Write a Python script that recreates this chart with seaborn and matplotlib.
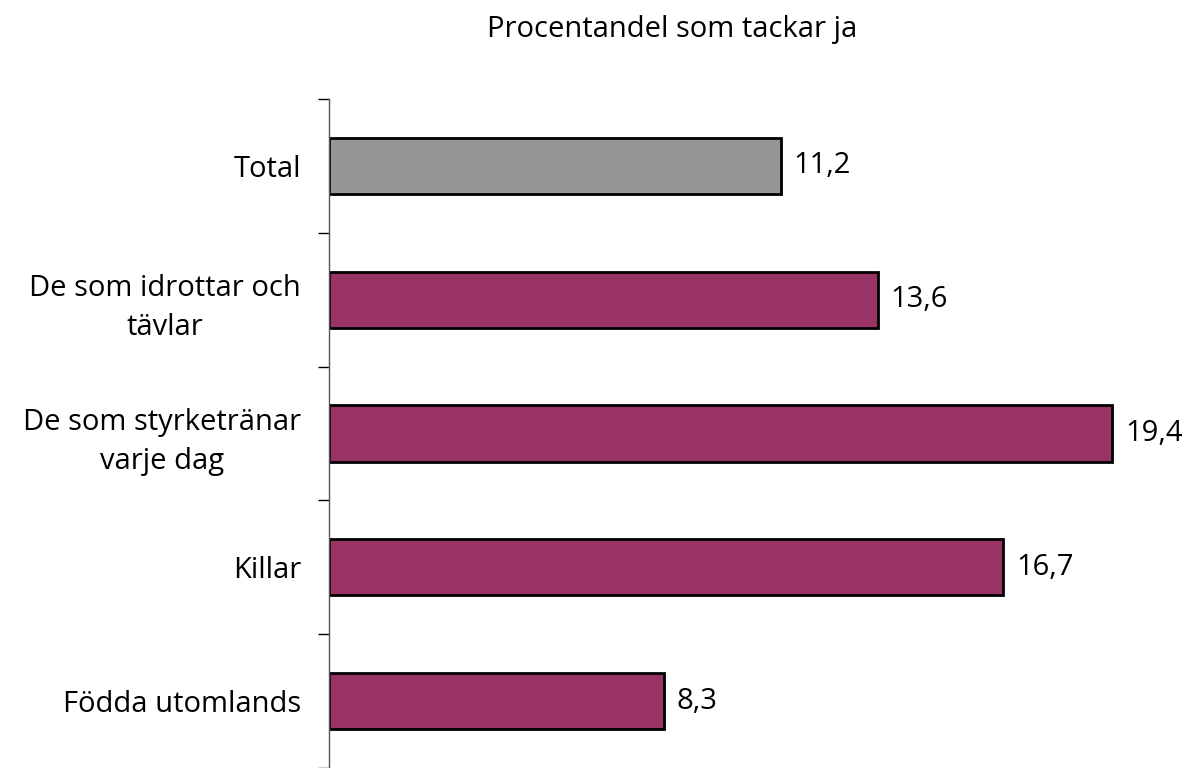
import matplotlib
matplotlib.use("Agg")
import matplotlib.pyplot as plt
import seaborn as sns
import numpy as np
import pandas as pd

categories = ["Total", "De som idrottar och\ntävlar", "De som styrketränar\nvarje dag", "Killar", "Födda utomlands"]
values = [11.2, 13.6, 19.4, 16.7, 8.3]
bar_colors = ["#969696", "#993366", "#993366", "#993366", "#993366"]
title = "Procentandel som tackar ja"

sns.set_theme(style="white")
plt.rcParams["font.family"] = ["Open Sans", "DejaVu Sans"]
plt.rcParams["text.color"] = "black"
plt.rcParams["ytick.color"] = "black"

df = pd.DataFrame({"kategori": categories, "andel": values})

fig = plt.figure(figsize=(11.91, 7.68), dpi=100)
ax = fig.add_axes([329 / 1191, 0.0, 848 / 1191, 1 - 99 / 768])

sns.barplot(data=df, x="andel", y="kategori", hue="kategori", palette=bar_colors,
            legend=False, orient="h", width=0.42, edgecolor="black", linewidth=2,
            saturation=1, ax=ax)

ax.set_xlim(0, 21)
ax.set_ylim(len(categories) - 0.5, -0.5)

fs = 21
for cont, v in zip(ax.containers, values):
    ax.bar_label(cont, labels=[f"{v:.1f}".replace(".", ",")], padding=9, fontsize=fs, color="black")

# ticks between categories, labels at centers
ax.set_yticks(np.arange(-0.5, len(categories), 1))
ax.set_yticklabels([])
ax.set_yticks(np.arange(len(categories)), minor=True)
ax.set_yticklabels(categories, minor=True, fontsize=fs, multialignment="center", linespacing=1.45)
ax.tick_params(axis="y", which="major", length=8, width=1, color="black", left=True, direction="out")
ax.tick_params(axis="y", which="minor", length=0, pad=20)
ax.set_xticks([])
ax.set_xlabel("")
ax.set_ylabel("")

for s in ["top", "right", "bottom"]:
    ax.spines[s].set_visible(False)
ax.spines["left"].set_color("#555555")
ax.spines["left"].set_linewidth(1)

fig.text(672 / 1191, 1 - 30 / 768, title, ha="center", va="center", fontsize=fs)

fig.savefig("out.png", dpi=100, facecolor="white")
